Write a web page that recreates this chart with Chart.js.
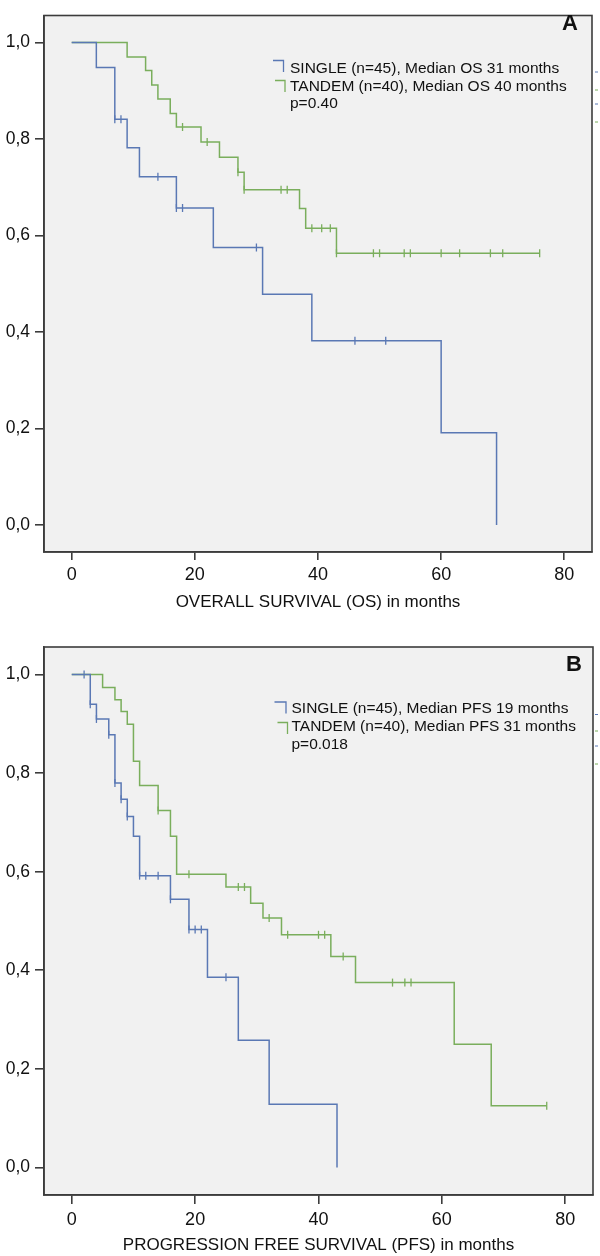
<!DOCTYPE html>
<html>
<head>
<meta charset="utf-8">
<script src="https://cdn.jsdelivr.net/npm/chart.js@4.4.0/dist/chart.umd.min.js"></script>
<style>
html,body{margin:0;padding:0;background:#ffffff;}
#wrapA{position:absolute;left:0;top:0;width:600px;height:620px;}
#wrapB{position:absolute;left:0;top:620px;width:600px;height:636px;}
</style>
</head>
<body>
<div id="wrapA"><canvas id="cA"></canvas></div>
<div id="wrapB"><canvas id="cB"></canvas></div>
<script>
// ---------- DATA ----------
// Panel A: overall survival (months, survival probability at each step)
const osSingleTimes  = [0, 4, 7, 9, 11, 17, 23, 31, 39, 60, 69];
const osSingleSurv   = [1.0, 0.948, 0.841, 0.782, 0.722, 0.657, 0.575, 0.478, 0.382, 0.191, 0.0];
const osSingleCensor = [7, 8, 14, 17, 18, 30, 46, 51];
const osTandemTimes  = [0, 9, 12, 13, 14, 16, 17, 21, 24, 27, 28, 37, 38, 43, 76];
const osTandemSurv   = [1.0, 0.970, 0.942, 0.912, 0.883, 0.853, 0.825, 0.794, 0.762, 0.731, 0.695, 0.656, 0.615, 0.563, 0.563];
const osTandemCensor = [18, 22, 27, 28, 34, 35, 39, 40.6, 42, 43, 49, 50, 54, 55, 60, 63, 68, 70, 76];

// Panel B: progression free survival
const pfsSingleTimes  = [0, 3, 4, 6, 7, 8, 9, 10, 11, 16, 19, 22, 27, 32, 43];
const pfsSingleSurv   = [1.0, 0.940, 0.910, 0.878, 0.780, 0.747, 0.712, 0.672, 0.592, 0.544, 0.483, 0.386, 0.258, 0.128, 0.0];
const pfsSingleCensor = [2, 3, 4, 6, 7, 8, 9, 11, 12, 14, 16, 19, 20, 21, 25];
const pfsTandemTimes  = [0, 5, 7, 8, 9, 10, 11, 14, 16, 17, 25, 29, 31, 34, 42, 46, 62, 68, 77];
const pfsTandemSurv   = [1.0, 0.974, 0.949, 0.925, 0.899, 0.824, 0.775, 0.724, 0.672, 0.595, 0.569, 0.536, 0.506, 0.472, 0.428, 0.375, 0.250, 0.125, 0.125];
const pfsTandemCensor = [14, 19, 27, 28, 32, 35, 40, 41, 44, 52, 54, 55, 77];

// Tick values & labels
const xTickValues = [0, 20, 40, 60, 80];
const xTickLabels = ['0', '20', '40', '60', '80'];
const yTickValues = [0, 0.2, 0.4, 0.6, 0.8, 1.0];
const yTickLabels = ['0,0', '0,2', '0,4', '0,6', '0,8', '1,0'];

// Texts
const titleA = 'OVERALL SURVIVAL (OS) in months';
const titleB = 'PROGRESSION FREE SURVIVAL (PFS) in months';
const legendA = ['SINGLE (n=45), Median OS 31 months', 'TANDEM (n=40), Median OS 40 months', 'p=0.40'];
const legendB = ['SINGLE (n=45), Median PFS 19 months', 'TANDEM (n=40), Median PFS 31 months', 'p=0.018'];
const panelLetters = ['A', 'B'];

// ---------- STYLE ----------
const FONT = "'Liberation Sans', Arial, Helvetica, sans-serif";
const BLUE = '#5a78b4';
const GREEN = '#7aae5c';
const TEXT = '#111111';
const AXIS = '#3c3c3c';
const PLOTBG = '#f1f1f1';

Chart.defaults.font.family = FONT;
Chart.defaults.color = TEXT;

function stepValueAt(times, surv, t) {
  let v = surv[0];
  for (let i = 0; i < times.length; i++) if (times[i] <= t) v = surv[i];
  return v;
}
function curve(times, surv) { return times.map((t, i) => ({x: t, y: surv[i]})); }
function censors(cens, times, surv) { return cens.map(t => ({x: t, y: stepValueAt(times, surv, t)})); }

function datasets(sT, sS, sC, tT, tS, tC) {
  const lineDs = (data, color) => ({data, showLine: true, stepped: 'before', borderColor: color,
    borderWidth: 1.5, pointRadius: 0, fill: false});
  const censDs = (data, color) => ({data, showLine: false, pointStyle: 'line', rotation: 90,
    pointRadius: 4, borderColor: color, backgroundColor: color, borderWidth: 1.3});
  return [
    lineDs(curve(sT, sS), BLUE),
    lineDs(curve(tT, tS), GREEN),
    censDs(censors(sC, sT, sS), BLUE),
    censDs(censors(tC, tT, tS), GREEN)
  ];
}

function panelPlugin(cfg) {
  return {
    id: 'panel' + cfg.letter,
    beforeDraw(chart) {
      const a = chart.chartArea, ctx = chart.ctx;
      ctx.save();
      ctx.fillStyle = PLOTBG;
      ctx.fillRect(a.left, a.top, a.right - a.left, a.bottom - a.top);
      ctx.restore();
    },
    afterDatasetsDraw(chart) {
      const a = chart.chartArea, ctx = chart.ctx;
      ctx.save();
      ctx.strokeStyle = AXIS;
      ctx.lineWidth = 1.6;
      ctx.strokeRect(a.left, a.top, a.right - a.left, a.bottom - a.top);
      ctx.restore();
    },
    afterDraw(chart) {
      const ctx = chart.ctx;
      ctx.save();
      // panel letter
      ctx.fillStyle = TEXT;
      ctx.font = 'bold 22px ' + FONT;
      ctx.textAlign = 'center';
      ctx.textBaseline = 'middle';
      ctx.fillText(cfg.letter, cfg.letterX, cfg.letterY);
      // legend text
      ctx.font = '15.5px ' + FONT;
      ctx.textAlign = 'left';
      cfg.legend.forEach((txt, i) => ctx.fillText(txt, cfg.textX, cfg.lineY[i]));
      // legend markers
      ctx.lineWidth = 1.3;
      cfg.markers.forEach(m => {
        ctx.strokeStyle = m.color;
        ctx.beginPath();
        ctx.moveTo(m.x0, m.y0); ctx.lineTo(m.x1, m.y0); ctx.lineTo(m.x1, m.y1);
        ctx.stroke();
      });
      // tiny stray dashes right of the frame
      ctx.lineWidth = 1;
      cfg.dashes.forEach(d => {
        ctx.strokeStyle = d.color;
        ctx.beginPath(); ctx.moveTo(595, d.y); ctx.lineTo(598, d.y); ctx.stroke();
      });
      ctx.restore();
    }
  };
}

function makeChart(id, ds, title, padTop, padRight, xAxisH, tickLen, tickPad, titlePadB, plugin) {
  return new Chart(document.getElementById(id), {
    type: 'scatter',
    data: {datasets: ds},
    options: {
      responsive: true,
      maintainAspectRatio: false,
      animation: false,
      events: [],
      layout: {padding: {top: padTop, right: padRight, bottom: 0, left: 0}},
      plugins: {legend: {display: false}, tooltip: {enabled: false}},
      scales: {
        x: {
          type: 'linear', min: -4.5, max: 84.5,
          afterBuildTicks: s => { s.ticks = xTickValues.map(v => ({value: v})); },
          afterFit: s => { s.height = xAxisH; },
          grid: {drawOnChartArea: false, drawTicks: true, tickLength: tickLen, color: AXIS, lineWidth: 1.6},
          border: {display: true, color: AXIS, width: 1.6},
          ticks: {padding: tickPad, color: TEXT, font: {size: 18}, maxRotation: 0,
            callback: (v, i) => xTickLabels[i]},
          title: {display: true, text: title, color: TEXT, font: {size: 17},
            padding: {top: 0, bottom: titlePadB}}
        },
        y: {
          type: 'linear', min: -0.056, max: 1.056,
          afterBuildTicks: s => { s.ticks = yTickValues.map(v => ({value: v})); },
          afterFit: s => { s.width = 44; },
          grid: {drawOnChartArea: false, drawTicks: true, tickLength: 9, color: AXIS, lineWidth: 1.6},
          border: {display: true, color: AXIS, width: 1.6},
          ticks: {padding: 5, color: TEXT, font: {size: 17.5},
            callback: (v, i) => yTickLabels[i]}
        }
      }
    },
    plugins: [plugin]
  });
}

const pluginA = panelPlugin({
  letter: panelLetters[0], letterX: 570, letterY: 24,
  legend: legendA, textX: 290, lineY: [68.5, 86.5, 104],
  markers: [{color: BLUE, x0: 273, x1: 283.5, y0: 60.5, y1: 72},
            {color: GREEN, x0: 275, x1: 285, y0: 80.5, y1: 92}],
  dashes: [{color: BLUE, y: 72}, {color: GREEN, y: 90}, {color: BLUE, y: 104}, {color: GREEN, y: 122}]
});
const pluginB = panelPlugin({
  letter: panelLetters[1], letterX: 574, letterY: 45,
  legend: legendB, textX: 291.5, lineY: [88.5, 106.8, 124.8],
  markers: [{color: BLUE, x0: 274.5, x1: 286, y0: 82, y1: 93.5},
            {color: GREEN, x0: 277.5, x1: 287.5, y0: 102.5, y1: 114}],
  dashes: [{color: BLUE, y: 94.5}, {color: GREEN, y: 111}, {color: BLUE, y: 126}, {color: GREEN, y: 144}]
});

makeChart('cA', datasets(osSingleTimes, osSingleSurv, osSingleCensor, osTandemTimes, osTandemSurv, osTandemCensor),
  titleA, 6, 8, 68, 8, 4.5, 7, pluginA);
makeChart('cB', datasets(pfsSingleTimes, pfsSingleSurv, pfsSingleCensor, pfsTandemTimes, pfsTandemSurv, pfsTandemCensor),
  titleB, 27, 7, 61, 9, 5, 0, pluginB);
</script>
</body>
</html>
